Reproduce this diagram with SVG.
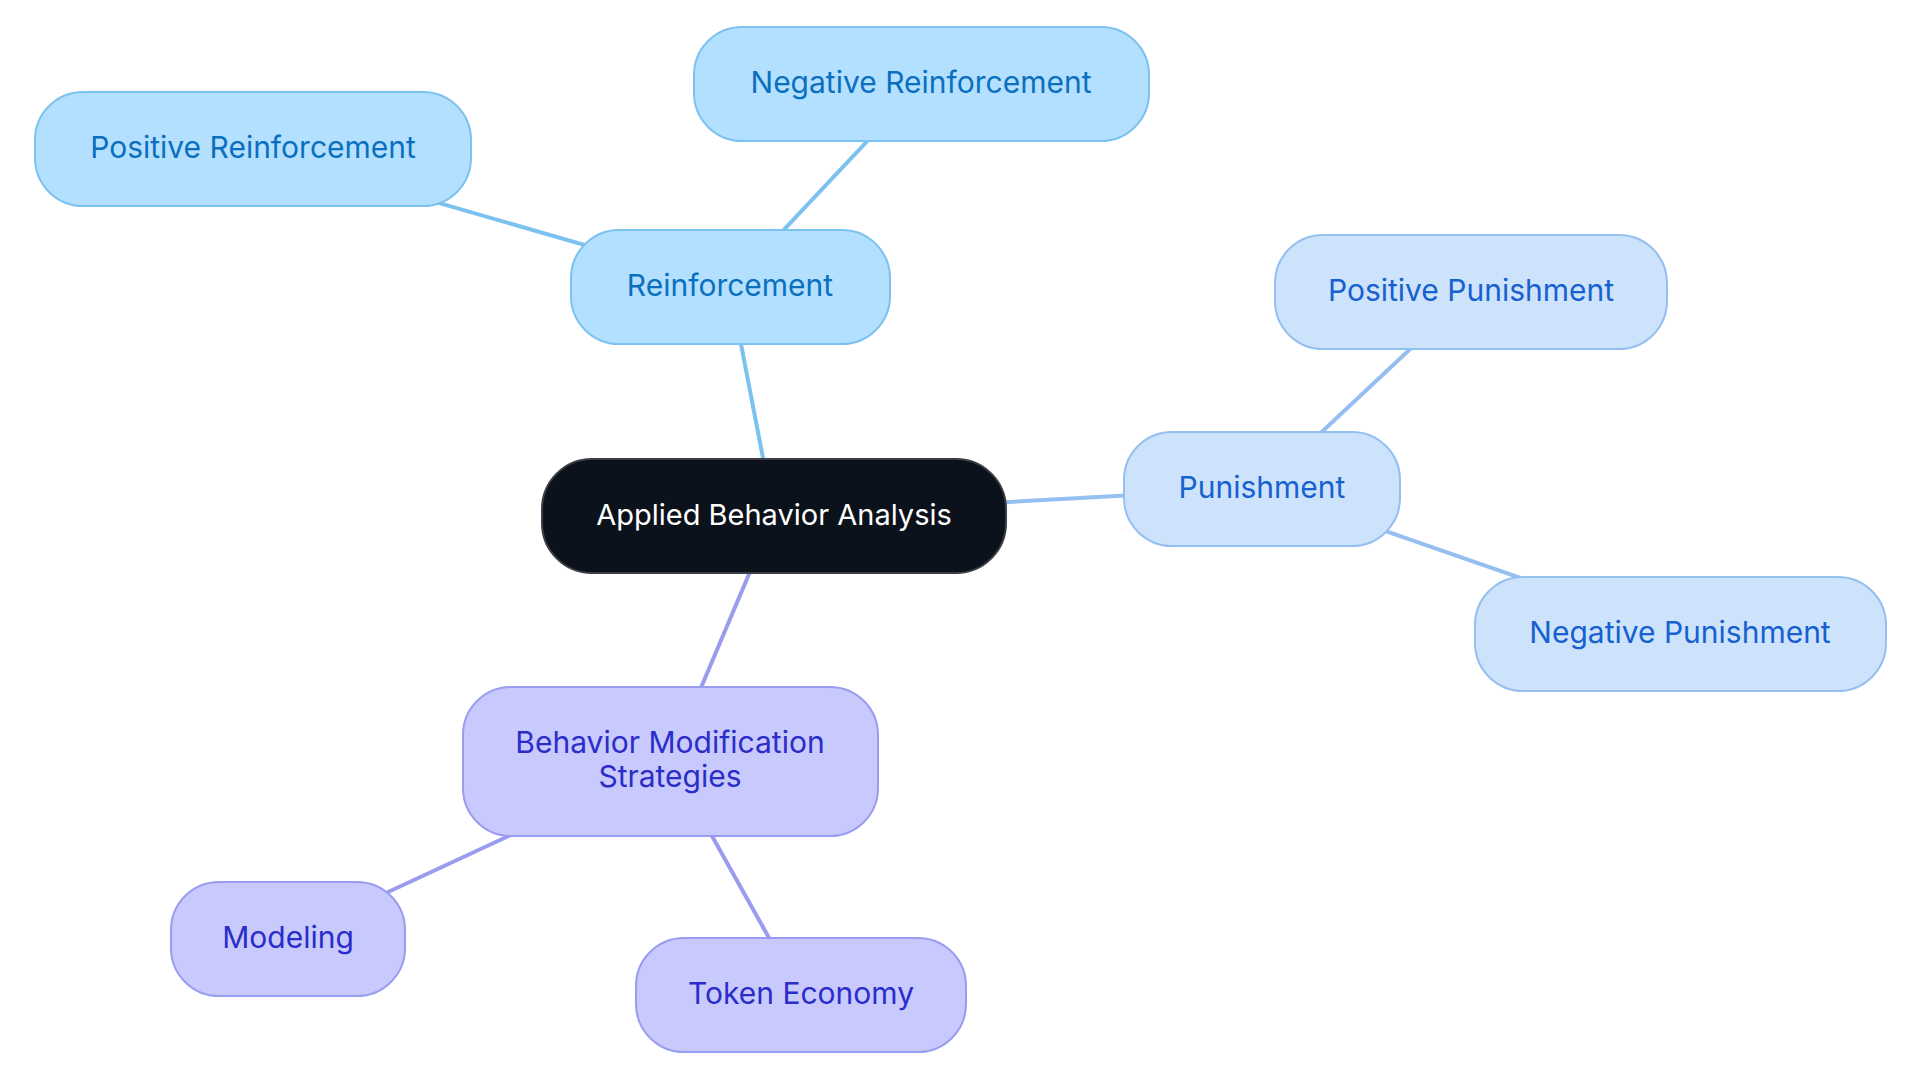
<svg xmlns="http://www.w3.org/2000/svg" width="1920" height="1083" viewBox="0 0 1920 1083">
<style>
text{font-family:Inter,"Noto Sans",sans-serif;font-size:30px;text-anchor:middle;dominant-baseline:central}
.r rect{fill:#b3e0fe;stroke:#7cc2f0;stroke-width:2}
.r text{fill:#0b6fbf}
.p rect{fill:#cde3fb;stroke:#94bff0;stroke-width:2}
.p text{fill:#1760d0}
.m rect{fill:#c8c9fd;stroke:#9a9cf0;stroke-width:2}
.m text{fill:#2b2dc9}
.er{stroke:#7cc2f0}
.ep{stroke:#94bff0}
.em{stroke:#9a9cf0}
#connectors line{stroke-width:4;stroke-linecap:round}
</style>
<rect width="1920" height="1083" fill="#ffffff"/>
<g id="connectors">
<line class="er" x1="774" y1="515" x2="730" y2="287"/>
<line class="er" x1="730" y1="287" x2="252" y2="149"/>
<line class="er" x1="730" y1="287" x2="921" y2="84"/>
<line class="ep" x1="774" y1="515" x2="1262" y2="488"/>
<line class="ep" x1="1262" y1="488" x2="1471" y2="292"/>
<line class="ep" x1="1262" y1="488" x2="1681" y2="634"/>
<line class="em" x1="774" y1="515" x2="670" y2="761"/>
<line class="em" x1="670" y1="761" x2="287" y2="939"/>
<line class="em" x1="670" y1="761" x2="801" y2="995"/>
</g>
<g id="center">
<rect x="542" y="459" width="464" height="114" rx="50" fill="#0c121c" stroke="#3a3e46" stroke-width="2"/>
<text x="774" y="514" fill="#ffffff" style="font-size:29px">Applied Behavior Analysis</text>
</g>
<g id="reinforcement" class="r">
<rect x="571" y="230" width="319" height="114" rx="48"/>
<text x="730" y="285">Reinforcement</text>
</g>
<g id="positive-reinforcement" class="r">
<rect x="35" y="92" width="436" height="114" rx="48"/>
<text x="253" y="147">Positive Reinforcement</text>
</g>
<g id="negative-reinforcement" class="r">
<rect x="694" y="27" width="455" height="114" rx="48"/>
<text x="921" y="82">Negative Reinforcement</text>
</g>
<g id="punishment" class="p">
<rect x="1124" y="432" width="276" height="114" rx="48"/>
<text x="1262" y="487">Punishment</text>
</g>
<g id="positive-punishment" class="p">
<rect x="1275" y="235" width="392" height="114" rx="48"/>
<text x="1471" y="290">Positive Punishment</text>
</g>
<g id="negative-punishment" class="p">
<rect x="1475" y="577" width="411" height="114" rx="48"/>
<text x="1680" y="632">Negative Punishment</text>
</g>
<g id="behavior-modification" class="m">
<rect x="463" y="687" width="415" height="149" rx="48"/>
<text x="670" y="742">Behavior Modification</text>
<text x="670" y="776">Strategies</text>
</g>
<g id="modeling" class="m">
<rect x="171" y="882" width="234" height="114" rx="48"/>
<text x="288" y="937">Modeling</text>
</g>
<g id="token-economy" class="m">
<rect x="636" y="938" width="330" height="114" rx="48"/>
<text x="801" y="993">Token Economy</text>
</g>
</svg>
